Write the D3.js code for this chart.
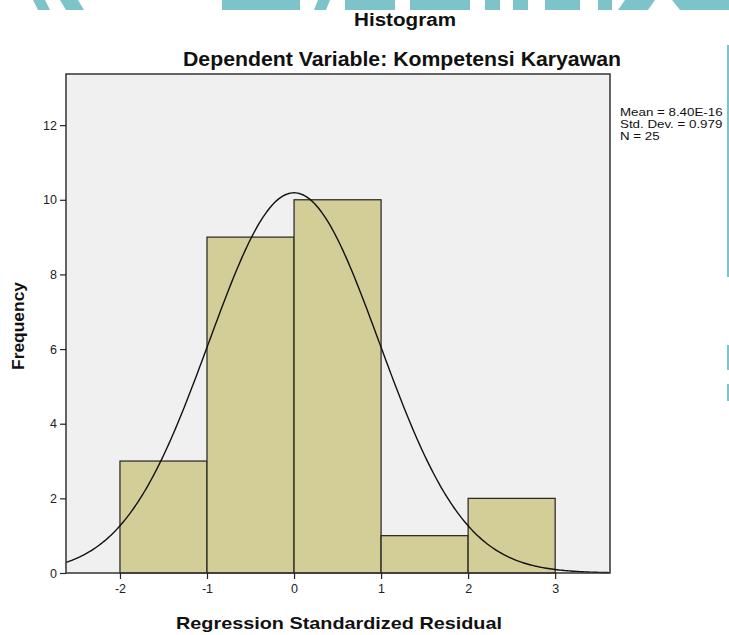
<!DOCTYPE html>
<html>
<head>
<meta charset="utf-8">
<script src="https://d3js.org/d3.v7.min.js"></script>
<style>
  body { margin: 0; background: #fff; }
  svg { display: block; font-family: "Liberation Sans", Arial, sans-serif; }
</style>
</head>
<body>
<svg id="chart" width="729" height="635"></svg>
<script>
// histogram bins (lower edge, upper edge) and counts
const binEdges = [-2, -1, 0, 1, 2, 3];
const counts = [3, 9, 10, 1, 2];
const xTicks = [-2, -1, 0, 1, 2, 3];
const yTicks = [0, 2, 4, 6, 8, 10, 12];
const stats = ["Mean = 8.40E-16", "Std. Dev. = 0.979", "N = 25"];
const mean = 8.40e-16, sd = 0.979, n = 25;

const svg = d3.select('#chart');
const plot = { left: 66, right: 610, top: 74, bottom: 573 };

const x = d3.scaleLinear().domain([-2.62, 3.63]).range([plot.left, plot.right]);
const y = d3.scaleLinear().domain([0, 13.37]).range([plot.bottom, plot.top]);

// watermark strip at the top (cut off logo)
const wm = svg.append('g').attr('fill', '#7cc3ca');
[[33, 45, 38, 50], [60, 78, 66, 84], [222, 300, 222, 300],
 [318, 330, 314, 326], [345, 395, 345, 395], [410, 470, 410, 470], [485, 500, 485, 500],
 [513, 528, 513, 528], [545, 580, 545, 580], [598, 612, 598, 612], [625, 655, 618, 648],
 [672, 729, 680, 729]].forEach(d => {
  wm.append('polygon').attr('points', `${d[0]},0 ${d[1]},0 ${d[3]},10 ${d[2]},10`);
});
svg.append('rect').attr('x', 727).attr('y', 45).attr('width', 2).attr('height', 232).attr('fill', '#7cc3ca');
svg.append('rect').attr('x', 727).attr('y', 345).attr('width', 2).attr('height', 25).attr('fill', '#7cc3ca');
svg.append('rect').attr('x', 727).attr('y', 384).attr('width', 2).attr('height', 17).attr('fill', '#7cc3ca');

// titles
svg.append('text').attr('x', 405).attr('y', 26).attr('text-anchor', 'middle')
   .attr('font-size', 18).attr('font-weight', 'bold').attr('fill', '#111')
   .attr('textLength', 102).attr('lengthAdjust', 'spacingAndGlyphs').text('Histogram');
svg.append('text').attr('x', 402).attr('y', 66).attr('text-anchor', 'middle')
   .attr('font-size', 20).attr('font-weight', 'bold').attr('fill', '#111')
   .attr('textLength', 438).attr('lengthAdjust', 'spacingAndGlyphs')
   .text('Dependent Variable: Kompetensi Karyawan');

// plot background
svg.append('rect').attr('x', plot.left).attr('y', plot.top)
   .attr('width', plot.right - plot.left).attr('height', plot.bottom - plot.top)
   .attr('fill', '#f0f0f0');

// bars
svg.append('g').selectAll('rect')
   .data(counts)
   .enter()
   .append('rect')
     .attr('x', (d, i) => x(binEdges[i]))
     .attr('y', d => y(d))
     .attr('width', (d, i) => x(binEdges[i + 1]) - x(binEdges[i]))
     .attr('height', d => y(0) - y(d))
     .attr('fill', '#d3ce97')
     .attr('stroke', '#222')
     .attr('stroke-width', 1.2);

// normal curve from mean / sd / N (bin width 1)
const curveX = d3.range(-2.62, 3.631, 0.02);
const pdf = v => n * 1 * Math.exp(-0.5 * Math.pow((v - mean) / sd, 2)) / (sd * Math.sqrt(2 * Math.PI));
svg.append('path')
   .datum(curveX)
   .attr('d', d3.line().x(d => x(d)).y(d => y(pdf(d))))
   .attr('fill', 'none').attr('stroke', '#111').attr('stroke-width', 1.4);

// frame
svg.append('rect').attr('x', plot.left).attr('y', plot.top)
   .attr('width', plot.right - plot.left).attr('height', plot.bottom - plot.top)
   .attr('fill', 'none').attr('stroke', '#333').attr('stroke-width', 1.5);

// axes
const yAxis = svg.append('g').attr('transform', `translate(${plot.left},0)`)
   .call(d3.axisLeft(y).tickValues(yTicks).tickSize(6).tickPadding(3).tickFormat(d => String(d)));
const xAxis = svg.append('g').attr('transform', `translate(0,${plot.bottom})`)
   .call(d3.axisBottom(x).tickValues(xTicks).tickSize(6).tickPadding(5).tickFormat(d => String(d)));
[yAxis, xAxis].forEach(a => {
  a.select('.domain').remove();
  a.selectAll('line').attr('stroke', '#222').attr('stroke-width', 1.2);
  a.selectAll('text').attr('font-size', 12.5).attr('fill', '#222')
   .attr('font-family', '"Liberation Sans", Arial, sans-serif');
});
xAxis.selectAll('.tick line').attr('y1', -(plot.bottom - y(0)));

// axis titles
svg.append('text').attr('transform', `translate(24,326) rotate(-90)`)
   .attr('text-anchor', 'middle').attr('font-size', 17).attr('font-weight', 'bold')
   .attr('fill', '#111').attr('textLength', 88).attr('lengthAdjust', 'spacingAndGlyphs')
   .text('Frequency');
svg.append('text').attr('x', 339).attr('y', 629).attr('text-anchor', 'middle')
   .attr('font-size', 17).attr('font-weight', 'bold').attr('fill', '#111')
   .attr('textLength', 326).attr('lengthAdjust', 'spacingAndGlyphs')
   .text('Regression Standardized Residual');

// stats legend
svg.append('g').attr('transform', 'translate(620,0) scale(1.16,1)')
   .selectAll('text')
   .data(stats)
   .enter()
   .append('text')
     .attr('x', 0)
     .attr('y', (d, i) => 116 + i * 12)
     .attr('font-size', 11.5)
     .attr('fill', '#111')
     .text(d => d);
</script>
</body>
</html>
